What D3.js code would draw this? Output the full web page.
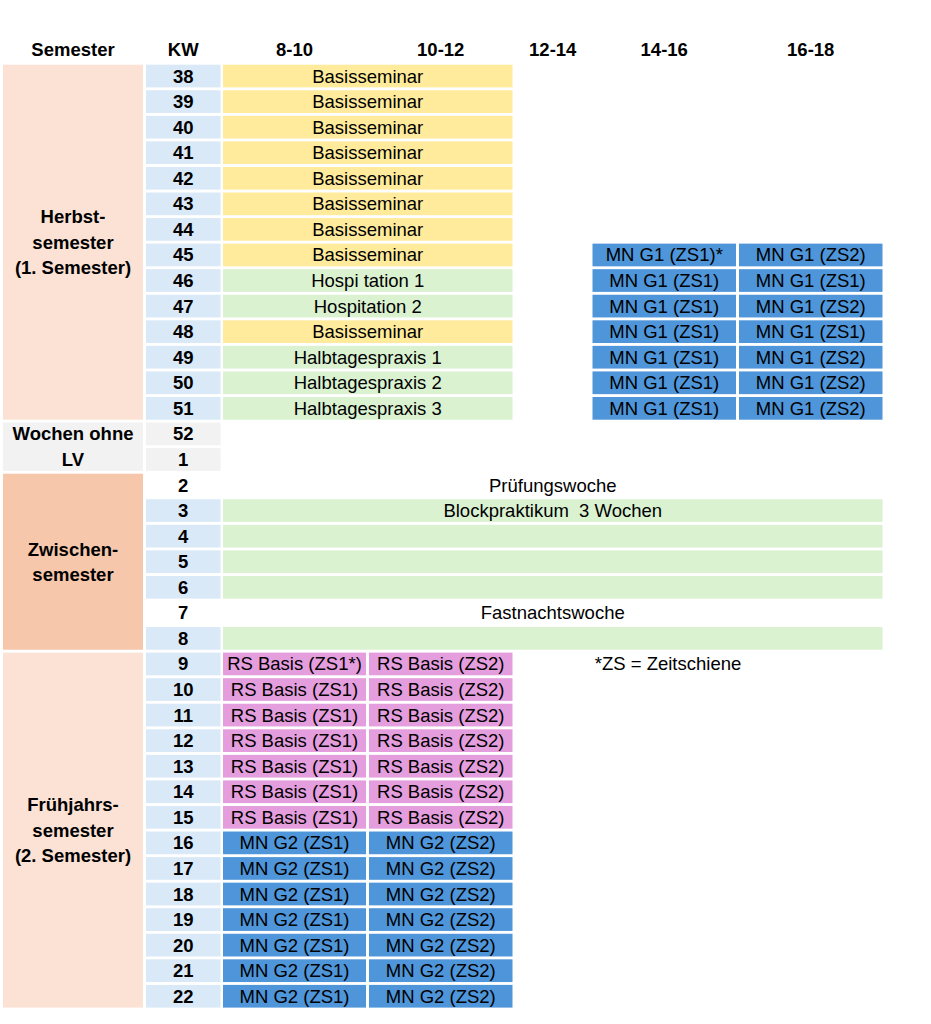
<!DOCTYPE html>
<html lang="de">
<head>
<meta charset="utf-8">
<style>
  body { margin: 0; background: #fff; }
  text { font-family: "Liberation Sans", Arial, sans-serif; fill: #000; }
</style>
</head>
<body>
<svg id="plan"></svg>
<script src="https://cdn.jsdelivr.net/npm/d3@7"></script>
<script>

    // --- data ---
    var weeks = [38, 39, 40, 41, 42, 43, 44, 45, 46, 47, 48, 49, 50, 51, 52, 1, 2, 3, 4, 5, 6, 7, 8, 9, 10, 11, 12, 13, 14, 15, 16, 17, 18, 19, 20, 21, 22];
    var weeksNoLV = [52, 1];
    var weeksUnshaded = [2, 7];

    var headers = ["Semester", "KW", "8-10", "10-12", "12-14", "14-16", "16-18"];

    var semesterNames = [["Herbst-", "semester", "(1. Semester)"], ["Wochen ohne", "LV"], ["Zwischen-", "semester"], ["Frühjahrs-", "semester", "(2. Semester)"]];
    var semesterFirstKW = [38, 52, 2, 9];
    var semesterLastKW = [51, 1, 8, 22];
    var semesterTone = ["herbst", "frei", "zwischen", "herbst"];

    // Herbstsemester, 8-12 (merged cells), KW 38..51
    var herbstVormittag = ["Basisseminar", "Basisseminar", "Basisseminar", "Basisseminar", "Basisseminar", "Basisseminar", "Basisseminar",
        "Basisseminar", "Hospi tation 1", "Hospitation 2", "Basisseminar", "Halbtagespraxis 1", "Halbtagespraxis 2", "Halbtagespraxis 3"];
    // Herbstsemester, 14-16 and 16-18, KW 45..51
    var herbstWochen = [45, 46, 47, 48, 49, 50, 51];
    var herbst1416 = ["MN G1 (ZS1)*", "MN G1 (ZS1)", "MN G1 (ZS1)", "MN G1 (ZS1)", "MN G1 (ZS1)", "MN G1 (ZS1)", "MN G1 (ZS1)"];
    var herbst1618 = ["MN G1 (ZS2)", "MN G1 (ZS1)", "MN G1 (ZS2)", "MN G1 (ZS1)", "MN G1 (ZS2)", "MN G1 (ZS2)", "MN G1 (ZS2)"];
    // Zwischensemester, whole day, KW 2..8
    var zwischenWochen = [2, 3, 4, 5, 6, 7, 8];
    var zwischenTag = ["Prüfungswoche", "Blockpraktikum  3 Wochen", "", "", "", "Fastnachtswoche", ""];
    // Frühjahrssemester, KW 9..22
    var fruehWochen = [9, 10, 11, 12, 13, 14, 15, 16, 17, 18, 19, 20, 21, 22];
    var frueh810 = ["RS Basis (ZS1*)", "RS Basis (ZS1)", "RS Basis (ZS1)", "RS Basis (ZS1)", "RS Basis (ZS1)", "RS Basis (ZS1)", "RS Basis (ZS1)",
        "MN G2 (ZS1)", "MN G2 (ZS1)", "MN G2 (ZS1)", "MN G2 (ZS1)", "MN G2 (ZS1)", "MN G2 (ZS1)", "MN G2 (ZS1)"];
    var frueh1012 = ["RS Basis (ZS2)", "RS Basis (ZS2)", "RS Basis (ZS2)", "RS Basis (ZS2)", "RS Basis (ZS2)", "RS Basis (ZS2)", "RS Basis (ZS2)",
        "MN G2 (ZS2)", "MN G2 (ZS2)", "MN G2 (ZS2)", "MN G2 (ZS2)", "MN G2 (ZS2)", "MN G2 (ZS2)", "MN G2 (ZS2)"];
    var footnote = "*ZS = Zeitschiene";

    // --- layout ---
    var width = 931, height = 1024;
    var fontSize = "18.5px", boldSize = "18.5px";

    var svg = d3.select("#plan").attr("width", width).attr("height", height);

    var y = d3.scaleBand().domain(weeks).range([64.7, 1007.6]).paddingInner(0.112).paddingOuter(0).align(0);
    var colLeft = d3.scaleOrdinal().domain(headers).range([3, 146, 223, 369, 515.5, 592.5, 739]);
    var colRight = d3.scaleOrdinal().domain(headers).range([143, 220.5, 366, 512.5, 590, 736, 882.5]);

    var toneColor = {herbst: "#fbe2d5", zwischen: "#f7c7ac", frei: "#f2f2f2"};

    var fillFor = function (label) {
        if (label.indexOf("Basisseminar") == 0) return "#ffeb9b";
        if (label.indexOf("MN") == 0) return "#4e95d9";
        if (label.indexOf("RS") == 0) return "#e59edd";
        if (label == "Prüfungswoche" || label == "Fastnachtswoche") return "none";
        return "#daf2d0";
    };

    // collect the timetable cells
    var cells = [];
    weeks.slice(0, 14).forEach(function (w, i) {
        cells.push({week: w, from: "8-10", to: "10-12", label: herbstVormittag[i]});
    });
    herbstWochen.forEach(function (w, i) {
        cells.push({week: w, from: "14-16", to: "14-16", label: herbst1416[i]});
        cells.push({week: w, from: "16-18", to: "16-18", label: herbst1618[i]});
    });
    zwischenWochen.forEach(function (w, i) {
        cells.push({week: w, from: "8-10", to: "16-18", label: zwischenTag[i]});
    });
    fruehWochen.forEach(function (w, i) {
        cells.push({week: w, from: "8-10", to: "8-10", label: frueh810[i]});
        cells.push({week: w, from: "10-12", to: "10-12", label: frueh1012[i]});
    });

    // header row
    svg.append("g").selectAll("text")
        .data(headers)
        .enter()
        .append("text")
        .attr("x", function (d) { return (colLeft(d) + colRight(d)) / 2; })
        .attr("y", 49)
        .attr("text-anchor", "middle")
        .attr("dominant-baseline", "central")
        .attr("font-size", boldSize)
        .attr("font-weight", "bold")
        .text(function (d) { return d; });

    // semester blocks
    var sem = svg.append("g").selectAll("g")
        .data(semesterNames)
        .enter()
        .append("g");
    sem.append("rect")
        .attr("x", colLeft("Semester"))
        .attr("width", colRight("Semester") - colLeft("Semester"))
        .attr("y", function (d, i) { return y(semesterFirstKW[i]); })
        .attr("height", function (d, i) { return y(semesterLastKW[i]) + y.bandwidth() - y(semesterFirstKW[i]); })
        .attr("fill", function (d, i) { return toneColor[semesterTone[i]]; });
    sem.each(function (lines, i) {
        var mid = (y(semesterFirstKW[i]) + y(semesterLastKW[i]) + y.bandwidth()) / 2;
        var step = 25.4;
        d3.select(this).selectAll("text")
            .data(lines)
            .enter()
            .append("text")
            .attr("x", (colLeft("Semester") + colRight("Semester")) / 2)
            .attr("y", function (d, k) { return mid + (k - (lines.length - 1) / 2) * step; })
            .attr("text-anchor", "middle")
            .attr("dominant-baseline", "central")
            .attr("font-size", boldSize)
            .attr("font-weight", "bold")
            .text(function (d) { return d; });
    });

    // KW column
    var kw = svg.append("g").selectAll("g")
        .data(weeks)
        .enter()
        .append("g");
    kw.append("rect")
        .attr("x", colLeft("KW"))
        .attr("width", colRight("KW") - colLeft("KW"))
        .attr("y", function (d) { return y(d); })
        .attr("height", y.bandwidth())
        .attr("fill", function (d) {
            if (weeksUnshaded.includes(d)) return "none";
            if (weeksNoLV.includes(d)) return "#f2f2f2";
            return "#dae9f8";
        });
    kw.append("text")
        .attr("x", (colLeft("KW") + colRight("KW")) / 2)
        .attr("y", function (d) { return y(d) + y.bandwidth() / 2; })
        .attr("text-anchor", "middle")
        .attr("dominant-baseline", "central")
        .attr("font-size", boldSize)
        .attr("font-weight", "bold")
        .text(function (d) { return d; });

    // timetable cells
    var cell = svg.append("g").selectAll("g")
        .data(cells)
        .enter()
        .append("g");
    cell.append("rect")
        .attr("x", function (d) { return colLeft(d.from); })
        .attr("width", function (d) { return colRight(d.to) - colLeft(d.from); })
        .attr("y", function (d) { return y(d.week); })
        .attr("height", y.bandwidth())
        .attr("fill", function (d) { return fillFor(d.label); });
    cell.append("text")
        .attr("x", function (d) { return (colLeft(d.from) + colRight(d.to)) / 2; })
        .attr("y", function (d) { return y(d.week) + y.bandwidth() / 2; })
        .attr("text-anchor", "middle")
        .attr("dominant-baseline", "central")
        .attr("font-size", fontSize)
        .style("white-space", "pre")
        .text(function (d) { return d.label; });

    // footnote next to KW 9
    svg.append("text")
        .attr("x", 668)
        .attr("y", y(9) + y.bandwidth() / 2)
        .attr("text-anchor", "middle")
        .attr("dominant-baseline", "central")
        .attr("font-size", fontSize)
        .text(footnote);

</script>
</body>
</html>
